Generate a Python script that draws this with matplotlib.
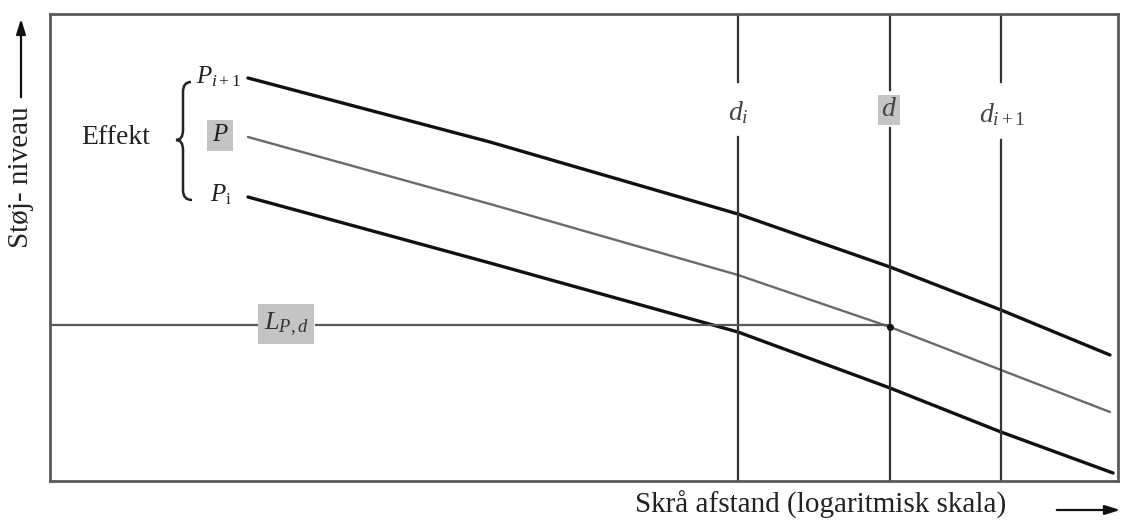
"""
Schematic: noise level vs slant distance (log scale) for three power levels.
Output: out.png
"""

import matplotlib
matplotlib.use("Agg")
import matplotlib.pyplot as plt
from matplotlib.path import Path
from matplotlib.patches import PathPatch

plt.rcParams["font.family"] = ["Liberation Serif", "DejaVu Serif"]
plt.rcParams["mathtext.fontset"] = "custom"
plt.rcParams["mathtext.rm"] = "Liberation Serif"
plt.rcParams["mathtext.it"] = "Liberation Serif:italic"

# ── Data (schematic units: distance along x, level along y) ──────────
dist        = [198, 440, 688, 840, 951, 1060]
level_upper = [403, 339, 267, 214, 171, 126]   # P_{i+1}
level_mid   = [344, 277, 206, 154, 111, 69]    # P
dist_lower  = [198, 440, 688, 840, 951, 1063]
level_lower = [284, 218, 149, 93, 49, 8]       # P_i

d_positions = [688, 840, 951]
d_labels    = [r"$d_i$", r"$d$", r"$d_{i+1}$"]
L_pd        = 155

X_MAX, Y_MAX = 1068, 467

fig = plt.figure(figsize=(11.25, 5.24), dpi=100)
ax = fig.add_axes([50 / 1125, 1 - 481 / 524, 1068 / 1125, 467 / 524])
ax.set_xlim(0, X_MAX)
ax.set_ylim(0, Y_MAX)
ax.set_xticks([])
ax.set_yticks([])
for s in ax.spines.values():
    s.set_color("#5a5a5a")
    s.set_linewidth(2)

# ── curves ───────────────────────────────────────────────────
ax.plot(dist, level_upper, color="#111111", lw=2.4, solid_capstyle="round")
ax.plot(dist, level_mid, color="#6a6a6a", lw=1.7, solid_capstyle="round")
ax.plot(dist_lower, level_lower, color="#111111", lw=2.4, solid_capstyle="round")

# ── vertical distance lines (broken around labels) ──────────
gaps = [(344, 399), (353, 391), (341, 399)]
for x, (lo, hi) in zip(d_positions, gaps):
    ax.plot([x, x], [0, lo], color="#333333", lw=1.6)
    ax.plot([x, x], [hi, Y_MAX], color="#333333", lw=1.6)

ax.text(d_positions[0], 368, d_labels[0], fontsize=20, color="#444444",
        ha="center", va="center")
ax.text(d_positions[1] - 1, 371, d_labels[1], fontsize=20, color="#444444",
        ha="center", va="center",
        bbox=dict(boxstyle="square,pad=0.1", fc="#c4c4c4", ec="none"))
ax.text(d_positions[2] + 1, 366, d_labels[2], fontsize=20, color="#444444",
        ha="center", va="center")

# ── horizontal L_{P,d} line ─────────────────────────────────
ax.plot([0, 207], [L_pd + 1, L_pd + 1], color="#5a5a5a", lw=1.6)
ax.plot([266, d_positions[1]], [L_pd + 1, L_pd + 1], color="#5a5a5a", lw=1.6)
ax.plot([d_positions[1]], [level_mid[3]], "o", color="#111111", ms=4)
ax.text(236, 157, r"$L_{P,d}$", fontsize=19, color="#333333",
        ha="center", va="center",
        bbox=dict(boxstyle="square,pad=0.22", fc="#c4c4c4", ec="none"))

# ── power labels and brace ──────────────────────────────────
ax.text(168, 404, r"$P_{i+1}$", fontsize=18, color="#222222", ha="center", va="center")
ax.text(170, 346, r"$P$", fontsize=18, color="#222222", ha="center", va="center",
        bbox=dict(boxstyle="square,pad=0.18", fc="#c4c4c4", ec="none"))
ax.text(171, 286, r"$P_{\mathrm{i}}$", fontsize=18, color="#222222", ha="center", va="center")
ax.text(66, 343, "Effekt", fontsize=20, color="#222222", ha="center", va="center")

brace = Path(
    [(141, 399), (133, 399), (133, 389), (133, 351), (133, 341), (126, 341),
     (133, 341), (133, 331), (133, 291), (133, 281), (142, 281)],
    [Path.MOVETO, Path.CURVE3, Path.CURVE3, Path.LINETO, Path.CURVE3, Path.CURVE3,
     Path.CURVE3, Path.CURVE3, Path.LINETO, Path.CURVE3, Path.CURVE3],
)
ax.add_patch(PathPatch(brace, fc="none", ec="#222222", lw=1.8))

# ── axis labels with arrows ─────────────────────────────────
fig.text(21, 524 - 177, "Støj- niveau", transform=None, rotation=90,
         fontsize=21, color="#222222", ha="center", va="center")
ax.annotate("", xy=(21, 524 - 16), xytext=(21, 524 - 100), xycoords="figure pixels",
            arrowprops=dict(arrowstyle="-|>,head_length=0.9,head_width=0.28",
                            color="#111111", lw=1.6))
fig.text(821, 524 - 505, "Skrå afstand (logaritmisk skala)", transform=None,
         fontsize=21, color="#222222", ha="center", va="center")
ax.annotate("", xy=(1123, 524 - 510), xytext=(1054, 524 - 510), xycoords="figure pixels",
            arrowprops=dict(arrowstyle="-|>,head_length=0.9,head_width=0.28",
                            color="#111111", lw=1.6))

fig.savefig("out.png", dpi=100)
